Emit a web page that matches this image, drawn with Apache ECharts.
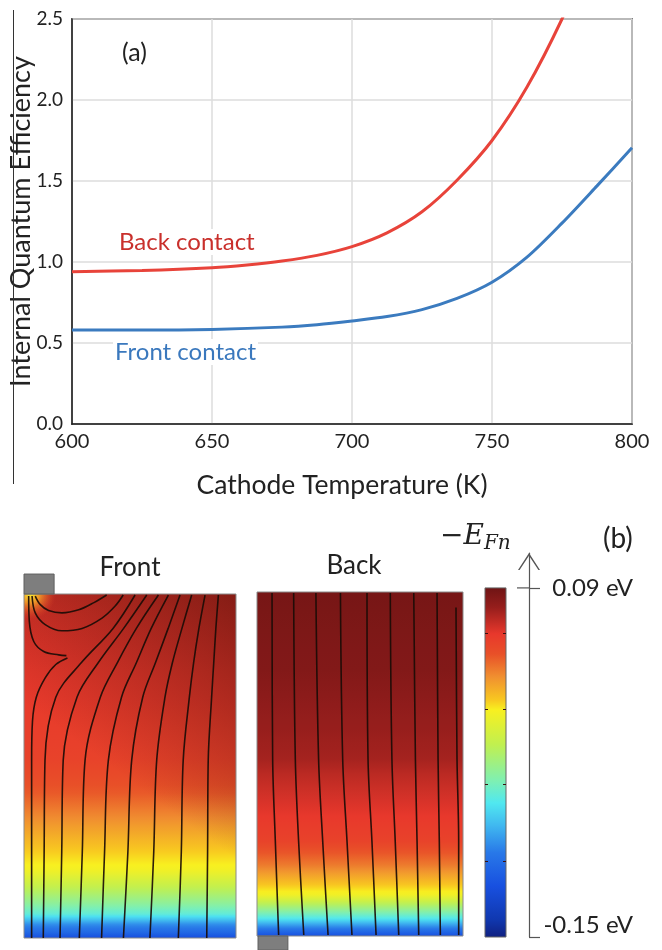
<!DOCTYPE html>
<html><head><meta charset="utf-8">
<script src="https://cdn.jsdelivr.net/npm/echarts@6/dist/echarts.min.js"></script>
<style>html,body{margin:0;padding:0;background:#fff}#c{width:662px;height:950px}</style>
</head><body><div id="c"></div>
<script>
// ---------- Panel (a) data ----------
const xTickValues = [600, 650, 700, 750, 800];
const yTickValues = [0, 0.5, 1.0, 1.5, 2.0, 2.5];
const tempBack  = [600, 625, 650, 662.5, 675, 687.5, 700, 712.5, 725, 737.5, 750, 762.5, 775, 780];
const iqeBack   = [0.94, 0.948, 0.965, 0.982, 1.006, 1.041, 1.095, 1.18, 1.31, 1.505, 1.75, 2.08, 2.5, 2.72];
const tempFront = [600, 625, 650, 675, 687.5, 700, 712.5, 725, 737.5, 750, 762.5, 775, 787.5, 800];
const iqeFront  = [0.58, 0.58, 0.584, 0.598, 0.613, 0.636, 0.663, 0.706, 0.775, 0.875, 1.03, 1.24, 1.47, 1.705];

// ---------- Panel (b) data ----------
const cbarMin = -0.15, cbarMax = 0.09;            // eV
const cbarTickValues = [-0.15, 0.09];
const cbarMinorTicks = [0.059, 0.007, -0.045, -0.098];
const cmapPos    = [0, 0.057, 0.133, 0.19, 0.256, 0.322, 0.35, 0.45, 0.55, 0.616, 0.68, 0.758, 0.853, 0.948, 1];
const cmapColors = ['#6e1414','#961e1c','#e8382c','#e85028','#f09030','#f8c820','#f8f020','#c0f050','#80f0b0','#50e8f0','#40b8f0','#2878e8','#1850e0','#1038b0','#102080'];
// -E_Fn profile vs normalised depth (0 = top surface, 1 = bottom)
const frontDepth     = [0, 0.3, 0.483, 0.58, 0.676, 0.75, 0.8, 0.85, 0.9, 0.93, 0.96, 0.985, 1];
const frontPotential = [0.06, 0.057, 0.052, 0.042, 0.025, 0.012, 0.004, -0.016, -0.037, -0.052, -0.085, -0.102, -0.116];
const backDepth      = [0, 0.225, 0.37, 0.486, 0.53, 0.628, 0.725, 0.793, 0.841, 0.88, 0.918, 0.948, 0.972, 1];
const backPotential  = [0.087, 0.083, 0.077, 0.073, 0.068, 0.06, 0.052, 0.034, 0.017, 0.003, -0.03, -0.056, -0.085, -0.115];
// contacts [x0, d0, x1, d1] in normalised panel units
const frontContact = [0, -0.058, 0.142, 0];
const backContact  = [0.005, 1, 0.15, 1.041];
// streamlines: [x, depth] points (normalised)
const frontStreamlines = [
  [[0.036,1.0],[0.036,0.75],[0.036,0.483],[0.04,0.37],[0.058,0.3],[0.1,0.244],[0.15,0.205],[0.205,0.186]],
  [[0.022,0.006],[0.025,0.079],[0.046,0.138],[0.093,0.167],[0.164,0.177],[0.2,0.179]],
  [[0.038,0.006],[0.053,0.055],[0.1,0.089],[0.179,0.107],[0.274,0.1],[0.368,0.07],[0.43,0.035],[0.468,0.003]],
  [[0.053,0.006],[0.077,0.031],[0.116,0.048],[0.179,0.055],[0.258,0.046],[0.33,0.025],[0.39,0.003]],
  [[0.091,1.0],[0.095,0.75],[0.099,0.483],[0.15,0.3],[0.27,0.2],[0.42,0.1],[0.524,0.003]],
  [[0.17,1.0],[0.178,0.75],[0.185,0.483],[0.25,0.3],[0.35,0.2],[0.47,0.1],[0.579,0.003]],
  [[0.261,1.0],[0.275,0.75],[0.288,0.483],[0.36,0.3],[0.44,0.2],[0.53,0.1],[0.634,0.003]],
  [[0.366,1.0],[0.38,0.75],[0.398,0.483],[0.46,0.3],[0.53,0.2],[0.6,0.1],[0.681,0.003]],
  [[0.469,1.0],[0.49,0.75],[0.508,0.483],[0.56,0.3],[0.62,0.2],[0.68,0.1],[0.736,0.003]],
  [[0.594,1.0],[0.612,0.75],[0.626,0.483],[0.665,0.3],[0.7,0.2],[0.745,0.1],[0.791,0.003]],
  [[0.728,1.0],[0.742,0.75],[0.751,0.483],[0.78,0.3],[0.8,0.2],[0.825,0.1],[0.854,0.003]],
  [[0.862,1.0],[0.866,0.75],[0.869,0.483],[0.885,0.3],[0.895,0.2],[0.905,0.1],[0.917,0.003]]
];
const backStreamlines = [
  [[0.073,0.003],[0.076,0.486],[0.089,0.725],[0.105,0.997]],
  [[0.178,0.003],[0.186,0.486],[0.202,0.725],[0.227,0.997]],
  [[0.286,0.003],[0.299,0.486],[0.319,0.725],[0.345,0.997]],
  [[0.405,0.003],[0.416,0.486],[0.437,0.725],[0.461,0.997]],
  [[0.534,0.003],[0.539,0.486],[0.558,0.725],[0.578,0.997]],
  [[0.647,0.003],[0.655,0.486],[0.671,0.725],[0.688,0.997]],
  [[0.761,0.003],[0.769,0.486],[0.777,0.725],[0.785,0.997]],
  [[0.874,0.003],[0.879,0.486],[0.885,0.725],[0.89,0.997]],
  [[0.966,0.045],[0.971,0.486],[0.979,0.725],[0.979,0.997]]
];

// ---------- helpers ----------
const FONT = 'Lato';
const CBAR_AXIS_OFFSET = 23;
const zip = (a, b) => a.map((v, i) => [v, b[i]]);
function hexRgb(h){ return [parseInt(h.slice(1,3),16), parseInt(h.slice(3,5),16), parseInt(h.slice(5,7),16)]; }
function colorAt(v){
  let t = (cbarMax - v) / (cbarMax - cbarMin);
  t = Math.max(0, Math.min(1, t));
  for (let i = 0; i < cmapPos.length - 1; i++) {
    if (t <= cmapPos[i+1]) {
      const s = (t - cmapPos[i]) / (cmapPos[i+1] - cmapPos[i]);
      const a = hexRgb(cmapColors[i]), b = hexRgb(cmapColors[i+1]);
      return 'rgb(' + a.map((c, k) => Math.round(c + (b[k]-c)*s)).join(',') + ')';
    }
  }
  return cmapColors[cmapColors.length-1];
}
function profileStops(depths, pots){
  const stops = [];
  for (let i = 0; i < depths.length - 1; i++) {
    for (let k = 0; k < 4; k++) {
      const s = k/4;
      stops.push({offset: depths[i] + (depths[i+1]-depths[i])*s, color: colorAt(pots[i] + (pots[i+1]-pots[i])*s)});
    }
  }
  stops.push({offset: 1, color: colorAt(pots[pots.length-1])});
  return stops;
}
function rectOf(api){
  const a = api.coord([api.value(0), api.value(1)]);
  const b = api.coord([api.value(2), api.value(3)]);
  return {x: Math.min(a[0],b[0]), y: Math.min(a[1],b[1]), width: Math.abs(b[0]-a[0]), height: Math.abs(b[1]-a[1])};
}
function fieldSeries(xi, stops, overlays){
  return {
    type: 'custom', xAxisIndex: xi, yAxisIndex: xi, z: 1, silent: true, animation: false,
    data: [[0, 0, 1, 1]],
    renderItem: function(params, api){
      const r = rectOf(api);
      const ch = [{type:'rect', shape: r, style:{fill:{type:'linear', x:0, y:0, x2:0, y2:1, colorStops: stops}}}];
      (overlays || []).forEach(f => ch.push({type:'rect', shape: r, style:{fill: f}}));
      ch.push({type:'rect', shape: r, style:{fill:'none', stroke:'#8a8a8a', lineWidth:1}});
      return {type:'group', children: ch};
    }
  };
}
function contactSeries(xi, box){
  return {
    type: 'custom', xAxisIndex: xi, yAxisIndex: xi, z: 4, silent: true, animation: false,
    data: [box],
    renderItem: function(params, api){
      return {type:'rect', shape: rectOf(api), style:{fill:'#7e7e7e', stroke:'#5e5e5e', lineWidth:1}};
    }
  };
}
function streamSeries(xi, lines){
  return lines.map(pts => ({
    type: 'line', xAxisIndex: xi, yAxisIndex: xi, data: pts, smooth: 0.35,
    showSymbol: false, symbol: 'none', silent: true, animation: false, z: 3,
    lineStyle: {color: '#1b0c07', width: 1.6, opacity: 0.92}
  }));
}
const hiddenAxis = (gi) => ({gridIndex: gi, type:'value', min:0, max:1, show:false});
const panelY = (gi) => ({gridIndex: gi, type:'value', min:0, max:1, inverse:true, show:false});
const panelX = (gi, name, pad) => ({
  gridIndex: gi, type:'value', min:0, max:1, position:'top',
  axisLine:{show:false, onZero:false}, axisTick:{show:false}, axisLabel:{show:false}, splitLine:{show:false},
  name: name, nameLocation:'middle', nameGap: 13, nameMoveOverlap: false,
  nameTextStyle:{fontFamily: FONT, fontSize: 26, color:'#222', padding: pad}
});

const frontGlow = {type:'radial', x:0.03, y:0.0, r:0.12, colorStops:[
  {offset:0, color:'rgba(250,240,50,1)'}, {offset:0.35, color:'rgba(246,170,40,0.85)'}, {offset:1, color:'rgba(232,70,45,0)'}]};
const frontShade = {type:'linear', x:1, y:0, x2:0.4, y2:0.5, colorStops:[
  {offset:0, color:'rgba(95,18,12,0.7)'}, {offset:1, color:'rgba(95,18,12,0)'}]};

const cbarStops = cmapPos.map((p, i) => ({offset: p, color: cmapColors[i]}));

const option = {
  backgroundColor: '#fff',
  animation: false,
  grid: [
    {left: 72, top: 19, width: 560, height: 405, show: true, borderColor: '#1a1a1a', borderWidth: 1.5, containLabel: false, outerBoundsMode: 'none'},
    {left: 24, top: 594, width: 212, height: 344, containLabel: false, outerBoundsMode: 'none'},
    {left: 257, top: 592, width: 206, height: 344, containLabel: false, outerBoundsMode: 'none'},
    {left: 485, top: 553, width: 21, height: 384, containLabel: false, outerBoundsMode: 'none'}
  ],
  xAxis: [
    {gridIndex: 0, type: 'value', min: xTickValues[0], max: xTickValues[xTickValues.length-1], interval: 50,
     axisLine: {show: true, lineStyle: {color: '#1a1a1a', width: 1.5}}, axisTick: {show: false},
     axisLabel: {fontFamily: FONT, fontSize: 20, color: '#222', margin: 8},
     splitLine: {show: true, lineStyle: {color: '#dcdcdc', width: 1.5}},
     name: 'Cathode Temperature (K)', nameLocation: 'middle', nameGap: 48, nameMoveOverlap: false,
     nameTextStyle: {fontFamily: FONT, fontSize: 26.5, color: '#222', padding: [0, 20, 0, 0]}},
    panelX(1, 'Front', [0,0,0,0]),
    panelX(2, 'Back', [0,12,0,0]),
    hiddenAxis(3)
  ],
  yAxis: [
    {gridIndex: 0, type: 'value', min: yTickValues[0], max: yTickValues[yTickValues.length-1], interval: 0.5,
     axisLine: {show: true, lineStyle: {color: '#1a1a1a', width: 1.5}}, axisTick: {show: false},
     axisLabel: {fontFamily: FONT, fontSize: 19, color: '#222', margin: 9, formatter: v => v.toFixed(1)},
     splitLine: {show: true, lineStyle: {color: '#dcdcdc', width: 1.5}},
     name: 'Internal Quantum Efficiency', nameLocation: 'middle', nameGap: 37, nameMoveOverlap: false,
     nameTextStyle: {fontFamily: FONT, fontSize: 27, color: '#222'}},
    panelY(1),
    panelY(2),
    {gridIndex: 3, type: 'value', min: cbarMin, max: 0.114, position: 'right', offset: CBAR_AXIS_OFFSET,
     axisLine: {show: true, onZero: false, lineStyle: {color: '#555', width: 1.2},
       symbol: ['none', 'path://M0,17 L11,0 L22,17 L20.4,17 L11,2.8 L1.6,17 Z'], symbolSize: [22, 17], symbolOffset: [0, -8.5]},
     axisTick: {show: true, customValues: cbarTickValues, length: 11, lineStyle: {color: '#555', width: 1.2}},
     axisLabel: {show: true, customValues: cbarTickValues, formatter: v => v.toFixed(2) + ' eV',
       fontFamily: FONT, fontSize: 24, color: '#222', align: 'right', margin: 104, verticalAlignMinLabel: 'bottom'},
     splitLine: {show: false}}
  ],
  series: [
    {type: 'line', xAxisIndex: 0, yAxisIndex: 0, data: zip(tempBack, iqeBack), smooth: 0.3, showSymbol: false, symbol: 'none',
     lineStyle: {color: '#e8433a', width: 3}, z: 3, clip: true},
    {type: 'line', xAxisIndex: 0, yAxisIndex: 0, data: zip(tempFront, iqeFront), smooth: 0.3, showSymbol: false, symbol: 'none',
     lineStyle: {color: '#3b7bbf', width: 3}, z: 3, clip: true},
    fieldSeries(1, profileStops(frontDepth, frontPotential), [frontShade, frontGlow]),
    contactSeries(1, frontContact),
    ...streamSeries(1, frontStreamlines),
    fieldSeries(2, profileStops(backDepth, backPotential), []),
    contactSeries(2, backContact),
    ...streamSeries(2, backStreamlines),
    {type: 'custom', xAxisIndex: 3, yAxisIndex: 3, z: 1, silent: true, animation: false,
     data: [[0, cbarMax, 1, cbarMin]],
     renderItem: function(params, api){
       const r = rectOf(api);
       const ch = [{type: 'rect', shape: r, style: {fill: {type:'linear', x:0, y:0, x2:0, y2:1, colorStops: cbarStops}, stroke: '#666', lineWidth: 1}}];
       cbarMinorTicks.forEach(v => {
         const y = Math.round(api.coord([0, v])[1]) + 0.5;
         ch.push({type:'line', shape:{x1: r.x, y1: y, x2: r.x + 3, y2: y}, style:{stroke:'#3a1010', lineWidth:1}});
         ch.push({type:'line', shape:{x1: r.x + r.width - 3, y1: y, x2: r.x + r.width, y2: y}, style:{stroke:'#3a1010', lineWidth:1}});
       });
       // inner half of the 0.09 tick (left of the arrow axis)
       const ax = r.x + r.width + CBAR_AXIS_OFFSET;
       const ty = api.coord([0, cbarTickValues[1]])[1];
       ch.push({type:'line', shape:{x1: ax - 12, y1: ty, x2: ax, y2: ty}, style:{stroke:'#555', lineWidth:1.2}});
       return {type:'group', children: ch};
     }}
  ],
  graphic: [
    {type: 'line', shape: {x1: 13.5, y1: 10, x2: 13.5, y2: 484}, style: {stroke: '#333', lineWidth: 1}, z: 5},
    {type: 'text', x: 122, y: 53, z: 5, style: {text: '(a)', fontFamily: FONT, fontSize: 25, fill: '#222', verticalAlign: 'middle'}},
    {type: 'text', x: 117, y: 242, z: 5, style: {text: 'Back contact', fontFamily: FONT, fontSize: 24, fill: '#c9302c', verticalAlign: 'middle', backgroundColor: '#fff', padding: [1, 2]}},
    {type: 'text', x: 113, y: 352, z: 5, style: {text: 'Front contact', fontFamily: FONT, fontSize: 24, fill: '#3a78bd', verticalAlign: 'middle', backgroundColor: '#fff', padding: [1, 2]}},
    {type: 'text', x: 603, y: 539, z: 5, style: {text: '(b)', fontFamily: FONT, fontSize: 28, fill: '#222', verticalAlign: 'middle'}},
    {type: 'text', x: 440, y: 537, z: 5, style: {
      text: '{m|−}{e|E}{s|Fn}', verticalAlign: 'middle',
      rich: {
        m: {fontFamily: 'DejaVu Serif', fontSize: 28, fill: '#222'},
        e: {fontFamily: 'DejaVu Serif', fontStyle: 'italic', fontSize: 28, fill: '#222'},
        s: {fontFamily: 'DejaVu Serif', fontStyle: 'italic', fontSize: 20, fill: '#222', padding: [13, 0, 0, 0]}
      }}}
  ]
};
const chart = echarts.init(document.getElementById('c'), null, {renderer: 'canvas'});
chart.setOption(option);
</script></body></html>
